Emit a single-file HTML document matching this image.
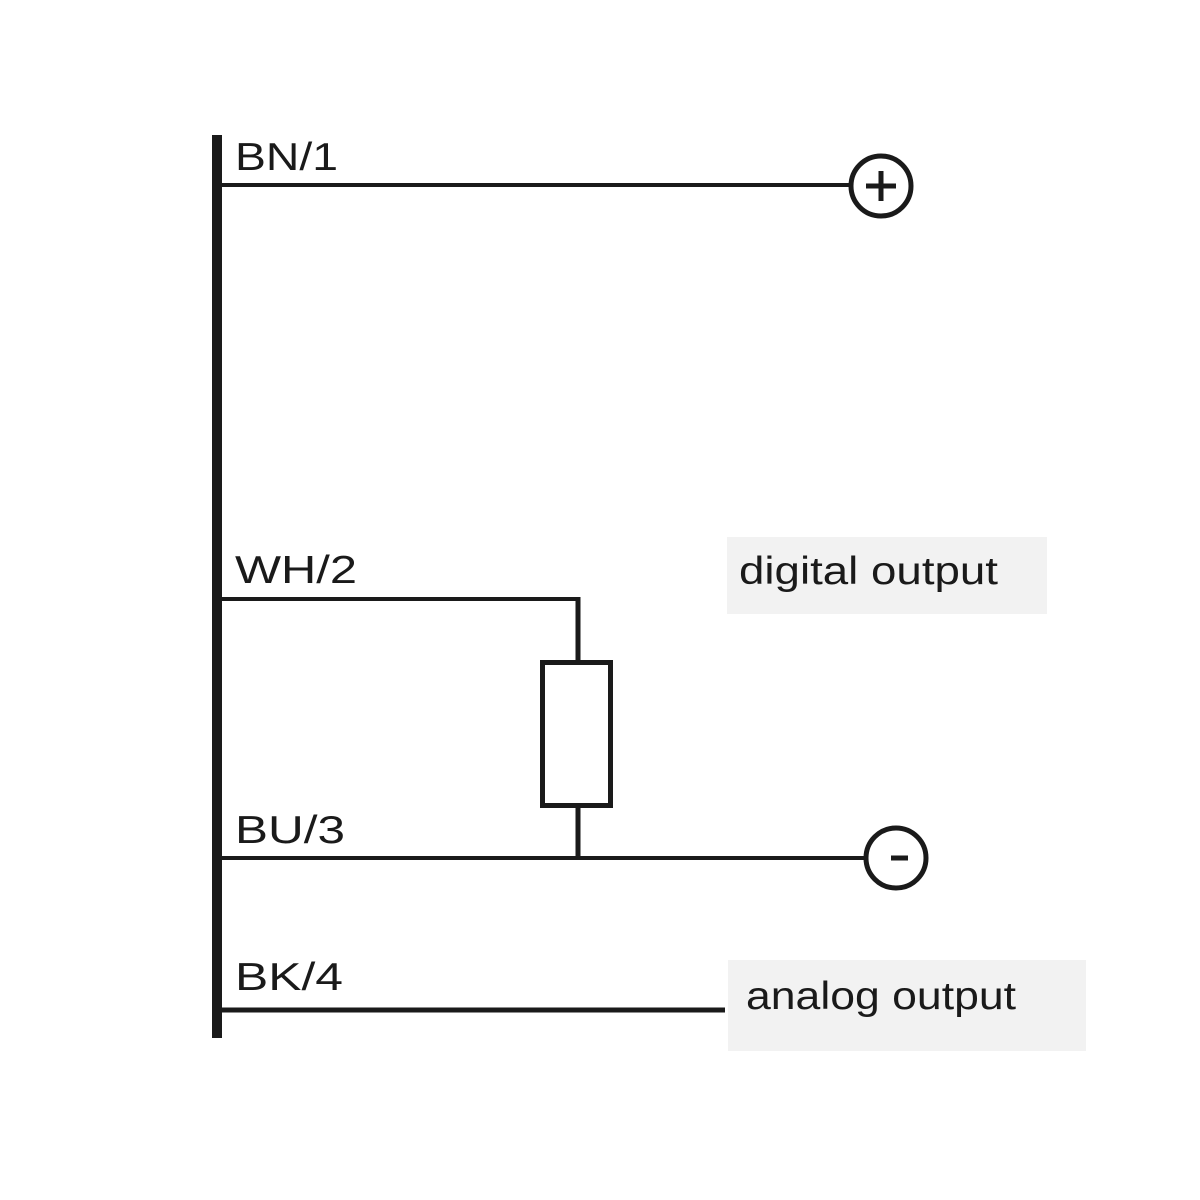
<!DOCTYPE html>
<html><head><meta charset="utf-8"><style>
html,body{margin:0;padding:0;background:#fff;}
svg{display:block;}
text{font-family:"Liberation Sans",Arial,sans-serif;fill:#1a1a1a;}
</style></head><body>
<svg width="1200" height="1200" viewBox="0 0 1200 1200" xmlns="http://www.w3.org/2000/svg">
<rect width="1200" height="1200" fill="#fff"/>
<rect x="727" y="537" width="320" height="77" fill="#f2f2f2"/>
<rect x="728" y="960" width="358" height="91" fill="#f2f2f2"/>
<g stroke="#1a1a1a" fill="none">
<line x1="217" y1="135" x2="217" y2="1038" stroke-width="10"/>
<line x1="217" y1="185" x2="851" y2="185" stroke-width="4"/>
<line x1="217" y1="599" x2="578" y2="599" stroke-width="4"/>
<line x1="578" y1="597" x2="578" y2="660" stroke-width="5"/>
<rect x="542.5" y="662.5" width="68" height="143" stroke-width="5"/>
<line x1="578" y1="808" x2="578" y2="858" stroke-width="5"/>
<line x1="217" y1="858" x2="866" y2="858" stroke-width="4"/>
<line x1="217" y1="1010" x2="725" y2="1010" stroke-width="5"/>
<circle cx="881" cy="186" r="30" stroke-width="5"/>
<line x1="881" y1="171" x2="881" y2="201" stroke-width="5"/>
<line x1="866" y1="186" x2="896" y2="186" stroke-width="5"/>
<circle cx="896" cy="858" r="30" stroke-width="5"/>
<line x1="891" y1="858" x2="908" y2="858" stroke-width="5"/>
</g>
<text x="235" y="170" font-size="39" textLength="103" lengthAdjust="spacingAndGlyphs">BN/1</text>
<text x="235" y="583" font-size="39" textLength="122" lengthAdjust="spacingAndGlyphs">WH/2</text>
<text x="235" y="843" font-size="39" textLength="110" lengthAdjust="spacingAndGlyphs">BU/3</text>
<text x="235" y="990" font-size="39" textLength="108" lengthAdjust="spacingAndGlyphs">BK/4</text>
<text x="739" y="584" font-size="39" textLength="259" lengthAdjust="spacingAndGlyphs">digital output</text>
<text x="746" y="1009" font-size="39" textLength="270" lengthAdjust="spacingAndGlyphs">analog output</text>
</svg>
</body></html>
